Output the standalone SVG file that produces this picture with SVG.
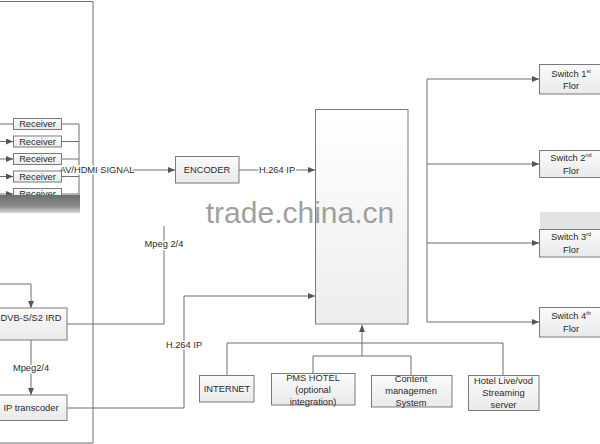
<svg xmlns="http://www.w3.org/2000/svg" width="600" height="444" viewBox="0 0 600 444">
<defs>
<linearGradient id="bg" x1="0" y1="0" x2="0" y2="1"><stop offset="0" stop-color="#fbfbfb"/><stop offset="1" stop-color="#e9e9e9"/></linearGradient>
<linearGradient id="bigg" x1="0" y1="0" x2="0" y2="1"><stop offset="0" stop-color="#ffffff"/><stop offset="1" stop-color="#ededed"/></linearGradient>
<linearGradient id="band" x1="0" y1="0" x2="0" y2="1"><stop offset="0" stop-color="#6e6e6e"/><stop offset="0.6" stop-color="#8a8a8a"/><stop offset="1" stop-color="#d5d5d5"/></linearGradient>
<marker id="ah" markerWidth="8" markerHeight="6" refX="7" refY="3" orient="auto" markerUnits="userSpaceOnUse"><path d="M0,0 L7,3 L0,6 z" fill="#555"/></marker>
</defs>
<style>
.box{fill:url(#bg);stroke:#7a7a7a;stroke-width:1}
.ln{fill:none;stroke:#6e6e6e;stroke-width:1}
.ar{marker-end:url(#ah)}
text{font-family:"Liberation Sans",Arial,sans-serif;font-size:9.3px;fill:#2a2a2a;text-anchor:middle}
.lbl{paint-order:stroke;stroke:#fff;stroke-width:3px}
</style>
<rect width="600" height="444" fill="#fff"/>
<path class="ln" d="M0,1.5 H93 V443 H0"/>
<g id="connectors">
<path class="ln" d="M0,124 H13"/>
<path class="ln ar" d="M0,141.5 H13"/>
<path class="ln ar" d="M0,159 H13"/>
<path class="ln ar" d="M0,176.5 H13"/>
<path class="ln ar" d="M0,194 H13"/>
<path class="ln" d="M61,124 H79 V200 M61,141.5 H79 M61,159 H79 M61,176.5 H79 M61,194 H79"/>
<path class="ln ar" d="M79,170 H175"/>
<path class="ln ar" d="M239,170 H315"/>
<path class="ln" d="M0,284 H31"/>
<path class="ln ar" d="M31,284 V308"/>
<path class="ln ar" d="M31,340 V395"/>
<path class="ln" d="M67,324 H164 V226"/>
<path class="ln ar" d="M67,408 H184 V296 H315"/>
<path class="ln" d="M427,79 V322"/>
<path class="ln ar" d="M427,79 H539"/>
<path class="ln ar" d="M427,164 H539"/>
<path class="ln ar" d="M427,243 H539"/>
<path class="ln ar" d="M427,322 H539"/>
<path class="ln" d="M227,375 V343 H503 V375"/>
<path class="ln" d="M313,373 V356 H411 V375"/>
<path class="ln ar" d="M362,356 V325"/>
</g>
<g id="labels">
<text class="lbl" x="97" y="173">AV/HDMI SIGNAL</text>
<text class="lbl" x="277" y="173">H.264 IP</text>
<text class="lbl" x="164" y="247">Mpeg 2/4</text>
<text class="lbl" x="31" y="371">Mpeg2/4</text>
<text class="lbl" x="184" y="348">H.264 IP</text>
</g>
<g id="receiver1"><rect class="box" x="13.5" y="118.5" width="48" height="11"/><text x="37.5" y="127.3">Receiver</text></g>
<g id="receiver2"><rect class="box" x="13.5" y="136" width="48" height="11"/><text x="37.5" y="144.8">Receiver</text></g>
<g id="receiver3"><rect class="box" x="13.5" y="153.5" width="48" height="11"/><text x="37.5" y="162.3">Receiver</text></g>
<g id="receiver4"><rect class="box" x="13.5" y="171" width="48" height="11"/><text x="37.5" y="179.8">Receiver</text></g>
<g id="receiver5"><rect class="box" x="13.5" y="188.5" width="48" height="11"/><text x="37.5" y="197.3">Receiver</text></g>
<rect x="0" y="195" width="80" height="18" fill="url(#band)"/>
<g id="encoder"><rect class="box" x="175.5" y="156.5" width="63.5" height="26.5"/><text x="207" y="173">ENCODER</text></g>
<g id="core"><rect x="315.5" y="109.5" width="92.5" height="214.5" fill="url(#bigg)" stroke="#7a7a7a"/></g>
<g id="dvb"><rect class="box" x="-1" y="308" width="68" height="32"/><text x="31" y="320.5">DVB-S/S2 IRD</text></g>
<g id="transcoder"><rect class="box" x="-1" y="395" width="68" height="25.5"/><text x="31" y="411">IP transcoder</text></g>
<g id="switch1"><rect class="box" x="539.5" y="64.5" width="62" height="29.5"/><text x="571" y="76.5">Switch 1<tspan font-size="5.5" dy="-4">st</tspan></text><text x="571" y="89">Flor</text></g>
<g id="switch2"><rect class="box" x="539.5" y="150.5" width="62" height="27"/><text x="571" y="161">Switch 2<tspan font-size="5.5" dy="-4">nd</tspan></text><text x="571" y="173.5">Flor</text></g>
<rect x="540" y="212" width="60" height="17" fill="#e3e3e3"/>
<g id="switch3"><rect class="box" x="539.5" y="229.5" width="62" height="27.5"/><text x="571" y="240">Switch 3<tspan font-size="5.5" dy="-4">rd</tspan></text><text x="571" y="253">Flor</text></g>
<g id="switch4"><rect class="box" x="539.5" y="307.5" width="62" height="29.5"/><text x="571" y="319">Switch 4<tspan font-size="5.5" dy="-4">th</tspan></text><text x="571" y="331.5">Flor</text></g>
<g id="internet"><rect class="box" x="199.5" y="375.5" width="54.5" height="26.5"/><text x="227" y="392">INTERNET</text></g>
<g id="pms"><rect class="box" x="271.5" y="373.5" width="83.5" height="31.5"/><text x="313" y="380.5">PMS HOTEL</text><text x="313" y="393">(optional</text><text x="313" y="405">integration)</text></g>
<g id="cms"><rect class="box" x="371.5" y="375.5" width="80.5" height="31.5"/><text x="411" y="381.5">Content</text><text x="411" y="394">managemen</text><text x="411" y="406">System</text></g>
<g id="streaming"><rect class="box" x="468.5" y="375.5" width="70.5" height="35"/><text x="503.5" y="383.5">Hotel Live/vod</text><text x="503.5" y="395.5">Streaming</text><text x="503.5" y="408">server</text></g>
<text x="300" y="223" style="font-size:30px;fill:#a0a0a0;font-family:'Liberation Sans',Arial,sans-serif">trade.china.cn</text>
</svg>
